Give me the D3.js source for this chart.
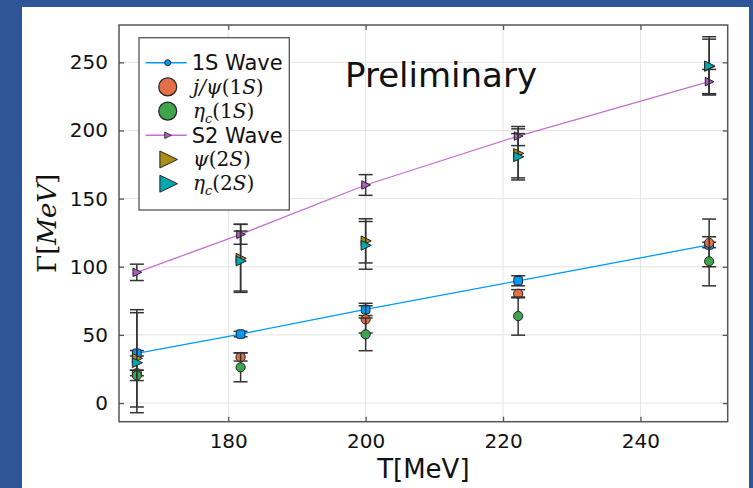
<!DOCTYPE html>
<html>
<head>
<meta charset="utf-8">
<script src="https://cdn.jsdelivr.net/npm/d3@7"></script>
<style>
  html, body { margin: 0; padding: 0; background: #2e5596; }
  svg { display: block; }
</style>
</head>
<body>
<svg id="chart" width="753" height="488"></svg>
<script>
// data
var temps      = [166.7, 181.8, 200, 222.2, 250];
var wave1S     = [36.5, 50.6, 68.7, 89.7, 116];
var wave1SErr  = [2, 2, 4.5, 3.7, 2];
var jpsi1S     = [22, 33.8, 61.4, 80.2, 117.5];
var jpsi1SErr  = [2, 3, 10, 3, 17.5];
var etac1S     = [20.3, 26.2, 50.4, 63.8, 104];
var etac1SErr  = [3.8, 10.6, 12, 14, 18];
var wave2S     = [95.9, 123.8, 160, 195.9, 235.8];
var wave2SErr  = [6, 7.3, 7.6, 7, 9];
var psi2S      = [32.8, 106.2, 119, 183.2, 247];
var psi2SErr   = [35.7, 25, 16.2, 18, 20];
var etac2S     = [29.6, 104.2, 115.7, 180.7, 247.4];
var etac2SErr  = [36.7, 22, 17.5, 17, 21.4];
var xTicks = [180, 200, 220, 240];
var yTicks = [0, 50, 100, 150, 200, 250];

var svg = d3.select("#chart");
var pLeft = 119, pRight = 727.7, pTop = 25, pBottom = 421.7;

// white panel
svg.append("rect").attr("x", 22).attr("y", 7).attr("width", 727).attr("height", 481).attr("fill", "#fff");

var x = d3.scaleLinear().domain([164.1, 252.7]).range([pLeft, pRight]);
var y = d3.scaleLinear().domain([-13.7, 277.4]).range([pBottom, pTop]);

// grid
var grid = svg.append("g").attr("stroke", "#e4e4e4").attr("stroke-width", 1);
xTicks.forEach(function(t) {
  grid.append("line").attr("x1", x(t)).attr("x2", x(t)).attr("y1", pTop).attr("y2", pBottom);
});
yTicks.forEach(function(t) {
  grid.append("line").attr("x1", pLeft).attr("x2", pRight).attr("y1", y(t)).attr("y2", y(t));
});

// axes, ticks pointing inwards
var gx = svg.append("g").attr("transform", "translate(0," + pBottom + ")")
  .call(d3.axisBottom(x).tickValues(xTicks).tickSize(-5).tickPadding(12).tickFormat(d3.format("d")));
var gy = svg.append("g").attr("transform", "translate(" + pLeft + ",0)")
  .call(d3.axisLeft(y).tickValues(yTicks).tickSize(-5).tickPadding(11).tickFormat(d3.format("d")));
var gx2 = svg.append("g").attr("transform", "translate(0," + pTop + ")")
  .call(d3.axisTop(x).tickValues(xTicks).tickSize(-5).tickFormat(""));
var gy2 = svg.append("g").attr("transform", "translate(" + pRight + ",0)")
  .call(d3.axisRight(y).tickValues(yTicks).tickSize(-5).tickFormat(""));
[gx, gy, gx2, gy2].forEach(function(g) {
  g.select(".domain").remove();
  g.selectAll(".tick line").attr("stroke", "#555").attr("stroke-width", 1.3);
  g.selectAll(".tick text").attr("fill", "#111").style("font-family", "DejaVu Sans").style("font-size", "20px");
});
svg.append("rect").attr("x", pLeft).attr("y", pTop).attr("width", pRight - pLeft).attr("height", pBottom - pTop)
  .attr("fill", "none").attr("stroke", "#555").attr("stroke-width", 1.5);

// series
var pal = { blue: "#009AFA", orange: "#E36F47", green: "#3EA44E", purple: "#C371D2", brown: "#AC8D18", cyan: "#00A9AD" };
var line = d3.line().x(function(d) { return x(d[0]); }).y(function(d) { return y(d[1]); });
var tri = function(s) { return "M" + (-s * 0.6) + "," + (-s * 0.65) + "L" + (s * 0.75) + ",0L" + (-s * 0.6) + "," + (s * 0.65) + "Z"; };

function errorBars(vals, errs) {
  var g = svg.append("g").attr("stroke", "#333").attr("stroke-width", 1.5);
  temps.forEach(function(t, i) {
    var cx = x(t), y0 = y(vals[i] - errs[i]), y1 = y(vals[i] + errs[i]);
    g.append("line").attr("x1", cx).attr("x2", cx).attr("y1", y0).attr("y2", y1);
    g.append("line").attr("x1", cx - 7).attr("x2", cx + 7).attr("y1", y0).attr("y2", y0);
    g.append("line").attr("x1", cx - 7).attr("x2", cx + 7).attr("y1", y1).attr("y2", y1);
  });
}
function markers(vals, kind, color, size) {
  var g = svg.append("g");
  temps.forEach(function(t, i) {
    var cx = x(t), cy = y(vals[i]);
    if (kind == "circle") {
      g.append("circle").attr("cx", cx).attr("cy", cy).attr("r", size)
        .attr("fill", color).attr("stroke", "#222").attr("stroke-width", 1);
    } else if (kind == "square") {
      g.append("rect").attr("x", cx - size).attr("y", cy - size).attr("width", 2 * size).attr("height", 2 * size)
        .attr("rx", 2).attr("fill", color).attr("stroke", "#222").attr("stroke-width", 1);
    } else {
      g.append("path").attr("d", tri(size)).attr("transform", "translate(" + cx + "," + cy + ")")
        .attr("fill", color).attr("stroke", "#222").attr("stroke-width", 1);
    }
  });
}

// 1S wave
svg.append("path").datum(temps.map(function(t, i) { return [t, wave1S[i]]; }))
  .attr("d", line).attr("fill", "none").attr("stroke", pal.blue).attr("stroke-width", 1.3);
errorBars(wave1S, wave1SErr);
markers(wave1S, "square", pal.blue, 4.3);
errorBars(jpsi1S, jpsi1SErr);
markers(jpsi1S, "circle", pal.orange, 4.6);
errorBars(etac1S, etac1SErr);
markers(etac1S, "circle", pal.green, 4.6);
// S2 wave
svg.append("path").datum(temps.map(function(t, i) { return [t, wave2S[i]]; }))
  .attr("d", line).attr("fill", "none").attr("stroke", pal.purple).attr("stroke-width", 1.3);
errorBars(wave2S, wave2SErr);
markers(wave2S, "tri", "#b05cc0", 6.5);
errorBars(psi2S, psi2SErr);
markers(psi2S, "tri", pal.brown, 7.5);
errorBars(etac2S, etac2SErr);
markers(etac2S, "tri", pal.cyan, 7.5);

// legend
var leg = svg.append("g");
leg.append("rect").attr("x", 139).attr("y", 37.7).attr("width", 150.3).attr("height", 172.3)
  .attr("fill", "#fff").attr("stroke", "#555").attr("stroke-width", 1.3);
var entries = [
  { label: "1S Wave", kind: "line", color: pal.blue },
  { label: ["j/ψ(1", "S", ")"], kind: "circle", color: pal.orange },
  { label: ["η", "c", "(1", "S", ")"], kind: "circle", color: pal.green, sub: true },
  { label: "S2 Wave", kind: "line2", color: pal.purple },
  { label: ["ψ(2", "S", ")"], kind: "tri", color: pal.brown },
  { label: ["η", "c", "(2", "S", ")"], kind: "tri", color: pal.cyan, sub: true }
];
entries.forEach(function(e, i) {
  var cy = 62.7 + i * 24.2;
  if (e.kind == "line" || e.kind == "line2") {
    leg.append("line").attr("x1", 145.7).attr("x2", 186.7).attr("y1", cy).attr("y2", cy)
      .attr("stroke", e.color).attr("stroke-width", 1.5);
    if (e.kind == "line") {
      leg.append("circle").attr("cx", 167.7).attr("cy", cy).attr("r", 3)
        .attr("fill", e.color).attr("stroke", "#222").attr("stroke-width", 1);
    } else {
      leg.append("path").attr("d", tri(5)).attr("transform", "translate(167.7," + cy + ")")
        .attr("fill", "#b05cc0").attr("stroke", "#222").attr("stroke-width", 0.8);
    }
    leg.append("text").attr("x", 191.7).attr("y", cy).attr("dy", "0.36em")
      .style("font-family", "DejaVu Sans").style("font-size", "21px").attr("fill", "#111").text(e.label);
  } else {
    if (e.kind == "circle") {
      leg.append("circle").attr("cx", 167.7).attr("cy", cy).attr("r", 9)
        .attr("fill", e.color).attr("stroke", "#222").attr("stroke-width", 1.2);
    } else {
      leg.append("path").attr("d", tri(13)).attr("transform", "translate(167.7," + cy + ")")
        .attr("fill", e.color).attr("stroke", "#222").attr("stroke-width", 1);
    }
    var t = leg.append("text").attr("x", 193).attr("y", cy).attr("dy", "0.33em")
      .style("font-family", "DejaVu Serif").style("font-size", "20px").attr("fill", "#111");
    if (e.sub) {
      t.append("tspan").style("font-style", "italic").text(e.label[0]);
      t.append("tspan").style("font-style", "italic").style("font-size", "13px").attr("dy", "5").text(e.label[1]);
      t.append("tspan").attr("dy", "-5").text(e.label[2]);
      t.append("tspan").style("font-style", "italic").text(e.label[3]);
      t.append("tspan").text(e.label[4]);
    } else {
      t.append("tspan").style("font-style", "italic").text(e.label[0].slice(0, e.label[0].indexOf("(")));
      t.append("tspan").text(e.label[0].slice(e.label[0].indexOf("(")));
      t.append("tspan").style("font-style", "italic").text(e.label[1]);
      t.append("tspan").text(e.label[2]);
    }
  }
});

// annotation
svg.append("text").attr("x", 345).attr("y", 87).style("font-family", "DejaVu Sans")
  .style("font-size", "34px").attr("fill", "#111").text("Preliminary");

// axis titles
svg.append("text").attr("x", (pLeft + pRight) / 2).attr("y", 478).attr("text-anchor", "middle")
  .style("font-family", "DejaVu Sans").style("font-size", "26px").attr("fill", "#111").text("T[MeV]");
var yl = svg.append("text").attr("transform", "translate(56," + ((pTop + pBottom) / 2) + ") rotate(-90)")
  .attr("text-anchor", "middle").style("font-family", "DejaVu Serif").style("font-size", "26px").attr("fill", "#111");
yl.append("tspan").text("Γ[");
yl.append("tspan").style("font-style", "italic").text("MeV");
yl.append("tspan").text("]");
</script>
</body>
</html>
